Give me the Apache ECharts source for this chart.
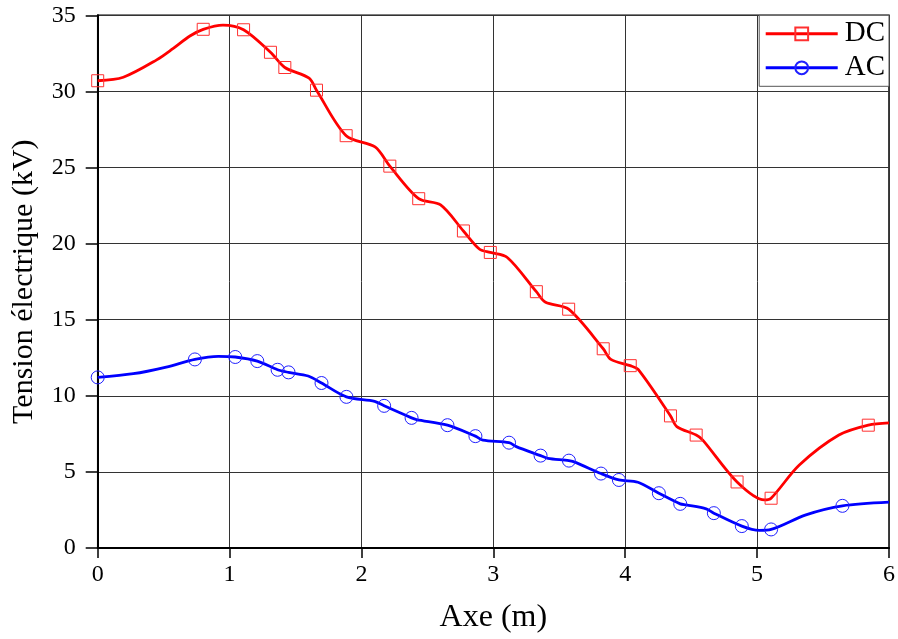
<!DOCTYPE html>
<html><head><meta charset="utf-8">
<script src="https://cdn.jsdelivr.net/npm/echarts@6/dist/echarts.min.js"></script>
<style>html,body{margin:0;padding:0;background:#fff}#c{width:898px;height:639px}</style>
</head><body><div id="c"></div>
<script>
// Values
const xTicks = [0, 1, 2, 3, 4, 5, 6];
const yTicks = [0, 5, 10, 15, 20, 25, 30, 35];

const dcMarkX = [0, 0.80, 1.106, 1.31, 1.419, 1.659, 1.884, 2.215, 2.434, 2.773, 2.977, 3.326, 3.571, 3.833, 4.038, 4.343, 4.538, 4.848, 5.106, 5.843];
const dcMarkY = [30.7, 34.08, 34.05, 32.57, 31.57, 30.08, 27.09, 25.09, 22.95, 20.83, 19.42, 16.84, 15.69, 13.09, 11.98, 8.68, 7.42, 4.34, 3.27, 8.07];
const dcKnotX = [0.194, 0.447, 0.573, 0.699, 0.95, 1.603, 2.103, 2.60, 2.896, 3.106, 3.396, 3.891, 4.098, 4.391, 4.588, 5.055, 5.32, 5.62, 6.0];
const dcKnotY = [30.93, 32.07, 32.83, 33.64, 34.36, 30.87, 26.35, 22.54, 19.63, 19.09, 16.14, 12.39, 11.73, 7.98, 7.09, 3.16, 5.45, 7.42, 8.22];

const acMarkX = [0, 0.737, 1.043, 1.21, 1.364, 1.447, 1.697, 1.886, 2.172, 2.38, 2.652, 2.864, 3.119, 3.358, 3.573, 3.816, 3.952, 4.255, 4.417, 4.672, 4.884, 5.106, 5.647];
const acMarkY = [11.21, 12.39, 12.55, 12.28, 11.71, 11.54, 10.84, 9.93, 9.34, 8.55, 8.07, 7.35, 6.92, 6.07, 5.74, 4.89, 4.47, 3.60, 2.90, 2.29, 1.44, 1.22, 2.77];
const acKnotX = [0.27, 0.52, 0.914, 1.596, 2.10, 2.417, 2.921, 3.174, 3.414, 3.628, 4.096, 4.462, 4.614, 5.018, 5.37, 6.0];
const acKnotY = [11.45, 11.89, 12.59, 11.30, 9.64, 8.44, 7.09, 6.66, 5.89, 5.61, 4.32, 2.83, 2.57, 1.16, 2.18, 3.01];

function pairs(xs, ys) { return xs.map((x, i) => [x, ys[i]]); }
function curve(mx, my, kx, ky) {
  return pairs(mx, my).concat(pairs(kx, ky)).sort((a, b) => a[0] - b[0]);
}

const FONT = 'Liberation Serif';
const chart = echarts.init(document.getElementById('c'), null, {renderer: 'canvas'});
chart.setOption({
  animation: false,
  backgroundColor: '#fff',
  grid: {left: 97.7, right: 8.3, top: 15.3, bottom: 89, show: true, borderColor: '#000', borderWidth: 1.5, backgroundColor: 'transparent'},
  legend: {
    orient: 'vertical', right: 9, top: 15.3,
    data: ['DC', 'AC'],
    itemWidth: 72, itemHeight: 16, itemGap: 5,
    padding: [4, 4, 4, 5],
    backgroundColor: '#fff', borderColor: '#555', borderWidth: 1, borderRadius: 0,
    lineStyle: {width: 3},
    textStyle: {fontFamily: FONT, fontSize: 29, color: '#000', padding: [0, 0, 0, 2]}
  },
  xAxis: {
    type: 'value', min: 0, max: 6, interval: 1,
    name: 'Axe (m)', nameLocation: 'middle', nameGap: 54,
    nameTextStyle: {fontFamily: FONT, fontSize: 32, color: '#000'},
    axisLine: {show: true, lineStyle: {color: '#000', width: 2}},
    axisTick: {show: true, inside: false, length: 10, lineStyle: {color: '#000', width: 1.5}},
    axisLabel: {fontFamily: FONT, fontSize: 24, color: '#000', margin: 15, formatter: v => xTicks.includes(v) ? String(v) : ''},
    splitLine: {show: true, lineStyle: {color: '#333', width: 1}}
  },
  yAxis: {
    type: 'value', min: 0, max: 35, interval: 5,
    name: 'Tension électrique (kV)', nameLocation: 'middle', nameGap: 59, nameRotate: 90,
    nameTextStyle: {fontFamily: FONT, fontSize: 30, color: '#000'},
    axisLine: {show: true, lineStyle: {color: '#000', width: 2}},
    axisTick: {show: true, inside: false, length: 12, lineStyle: {color: '#000', width: 1.5}},
    axisLabel: {fontFamily: FONT, fontSize: 24, color: '#000', margin: 22, formatter: v => yTicks.includes(v) ? String(v) : ''},
    splitLine: {show: true, lineStyle: {color: '#333', width: 1}}
  },
  series: [
    {
      name: 'DC', type: 'line', smooth: 0.3, symbol: 'rect', symbolSize: 12, showSymbol: false,
      data: curve(dcMarkX, dcMarkY, dcKnotX, dcKnotY),
      lineStyle: {color: '#ff0000', width: 2.8},
      itemStyle: {color: 'rgba(255,255,255,0)', borderColor: '#ff3030', borderWidth: 1},
      z: 3
    },
    {
      name: 'AC', type: 'line', smooth: 0.3, symbol: 'circle', symbolSize: 13, showSymbol: false,
      data: curve(acMarkX, acMarkY, acKnotX, acKnotY),
      lineStyle: {color: '#0000ff', width: 2.8},
      itemStyle: {color: 'rgba(255,255,255,0)', borderColor: '#2020ff', borderWidth: 1},
      z: 3
    },
    {
      name: 'DC markers', type: 'scatter', symbol: 'rect', symbolSize: 12,
      data: pairs(dcMarkX, dcMarkY),
      itemStyle: {color: 'rgba(255,255,255,0)', borderColor: '#ff3030', borderWidth: 1, opacity: 1},
      z: 4
    },
    {
      name: 'AC markers', type: 'scatter', symbol: 'circle', symbolSize: 13,
      data: pairs(acMarkX, acMarkY),
      itemStyle: {color: 'rgba(255,255,255,0)', borderColor: '#2020ff', borderWidth: 1, opacity: 1},
      z: 4
    }
  ]
});
</script></body></html>
